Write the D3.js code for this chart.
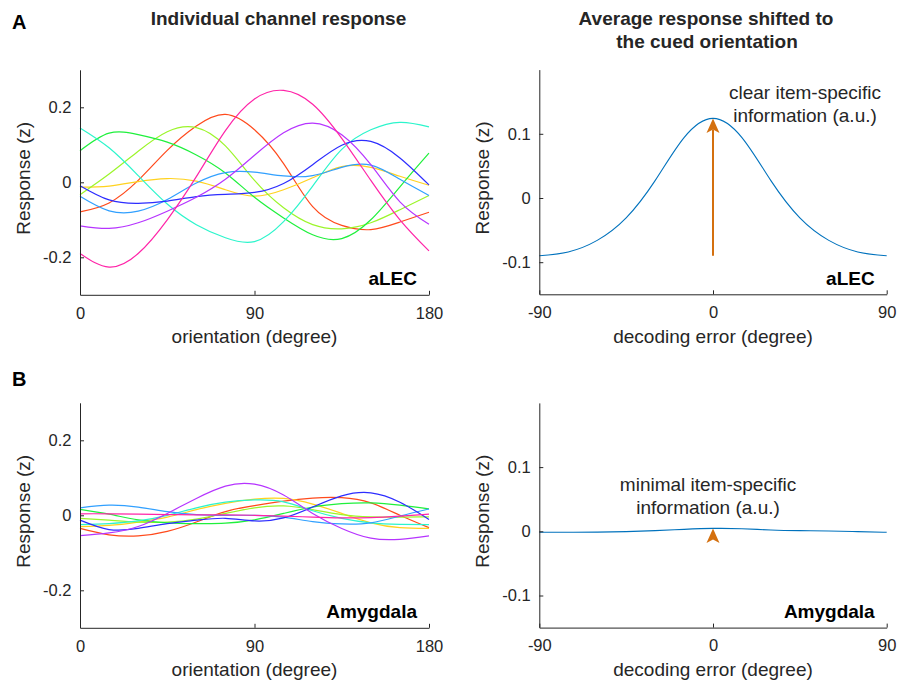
<!DOCTYPE html>
<html>
<head>
<meta charset="utf-8">
<script src="https://cdn.jsdelivr.net/npm/d3@7"></script>
<style>
  body { margin: 0; background: #fff; }
  svg { display: block; font-family: "Liberation Sans", Arial, Helvetica, sans-serif; }
</style>
</head>
<body>
<svg id="fig" width="898" height="683"></svg>
<script>
// orientation samples (degree) for the channel panels
const orientation = [0, 15, 30, 45, 60, 75, 90, 105, 120, 135, 150, 165, 180];
const channelColors = ["#ff4a1c", "#ffd21f", "#9cf52a", "#1ff03c", "#2cf5cc", "#31a0ff", "#2d2dff", "#b634ff", "#ff24a8"];

// aLEC channel responses (z)
const alecRed     = [-0.079, -0.055, 0.005, 0.085, 0.150, 0.181, 0.140, 0.050, -0.065, -0.115, -0.126, -0.106, -0.080];
const alecYellow  = [-0.013, -0.010, 0.002, 0.010, 0.003, -0.020, -0.037, -0.020, 0.012, 0.042, 0.040, 0.016, -0.008];
const alecLime    = [-0.033, 0.022, 0.083, 0.135, 0.146, 0.097, 0.005, -0.068, -0.113, -0.124, -0.108, -0.073, -0.035];
const alecGreen   = [0.084, 0.131, 0.127, 0.107, 0.073, 0.025, -0.040, -0.095, -0.140, -0.150, -0.100, -0.012, 0.078];
const alecCyan    = [0.145, 0.092, 0.018, -0.058, -0.113, -0.148, -0.158, -0.105, -0.010, 0.088, 0.140, 0.160, 0.148];
const alecAzure   = [-0.037, -0.076, -0.077, -0.046, -0.002, 0.026, 0.027, 0.017, 0.018, 0.040, 0.046, 0.008, -0.035];
const alecBlue    = [-0.009, -0.047, -0.056, -0.050, -0.038, -0.032, -0.027, -0.003, 0.047, 0.099, 0.109, 0.065, -0.007];
const alecPurple  = [-0.116, -0.123, -0.108, -0.077, -0.040, 0.008, 0.072, 0.132, 0.158, 0.127, 0.047, -0.052, -0.112];
const alecMagenta = [-0.190, -0.226, -0.190, -0.100, 0.015, 0.138, 0.222, 0.245, 0.208, 0.117, 0.005, -0.100, -0.183];

// Amygdala channel responses (z)
const amyRed     = [-0.035, -0.052, -0.055, -0.043, -0.018, 0.010, 0.026, 0.038, 0.046, 0.047, 0.033, 0.000, -0.033];
const amyYellow  = [-0.030, -0.027, -0.018, -0.005, 0.015, 0.032, 0.043, 0.045, 0.030, 0.005, -0.020, -0.033, -0.035];
const amyLime    = [-0.008, -0.013, -0.018, -0.018, -0.010, 0.005, 0.020, 0.025, 0.015, 0.002, -0.004, -0.005, -0.004];
const amyGreen   = [0.016, 0.003, -0.012, -0.020, -0.022, -0.021, -0.012, 0.005, 0.022, 0.031, 0.033, 0.027, 0.017];
const amyCyan    = [-0.025, -0.022, -0.015, 0.000, 0.020, 0.035, 0.041, 0.036, 0.012, -0.008, -0.020, -0.024, -0.025];
const amyAzure   = [0.020, 0.027, 0.022, 0.010, 0.002, 0.000, 0.000, -0.005, -0.017, -0.023, -0.020, -0.002, 0.017];
const amyBlue    = [-0.013, -0.038, -0.035, -0.022, -0.013, -0.008, -0.015, -0.007, 0.022, 0.052, 0.060, 0.035, -0.011];
const amyPurple  = [-0.054, -0.047, -0.030, 0.005, 0.045, 0.078, 0.083, 0.054, 0.005, -0.035, -0.061, -0.064, -0.055];
const amyMagenta = [0.004, 0.004, 0.003, 0.002, 0.001, 0.001, 0.000, -0.002, -0.005, -0.007, -0.006, -0.002, 0.003];

// average response shifted to cued orientation
const shift  = [-90, -75, -60, -45, -30, -15, 0, 15, 30, 45, 60, 75, 90];
const alecAvg = [-0.090, -0.084, -0.066, -0.031, 0.027, 0.094, 0.124, 0.094, 0.027, -0.031, -0.066, -0.084, -0.090];
const amyAvg  = [-0.0015, -0.0015, -0.0013, -0.0005, 0.001, 0.003, 0.0045, 0.004, 0.002, 0.001, 0.0005, -0.0005, -0.0015];
const alecArrow = [-0.090, 0.124];
const amyArrow  = [-0.0015, 0.0045];

const chanTicksX = [0, 90, 180];
const chanTicksY = [-0.2, 0, 0.2];
const avgTicksX = [-90, 0, 90];
const avgTicksY = [-0.1, 0, 0.1];

const alecSeries = [alecRed, alecYellow, alecLime, alecGreen, alecCyan, alecAzure, alecBlue, alecPurple, alecMagenta];
const amySeries = [amyRed, amyYellow, amyLime, amyGreen, amyCyan, amyAzure, amyBlue, amyPurple, amyMagenta];

const axisColor = "#262626";
const arrowColor = "#d4700f";
const avgColor = "#0072bd";

let svg = d3.select("#fig");

function drawAxes(g, x, y, ticksX, ticksY, xLabel) {
    let ax = g.append("g")
        .attr("transform", `translate(0,${y.range()[0]})`)
        .call(d3.axisBottom(x).tickValues(ticksX).tickSizeInner(-4).tickSizeOuter(0)
            .tickPadding(12).tickFormat(d => String(d)));
    let ay = g.append("g")
        .attr("transform", `translate(${x.range()[0]},0)`)
        .call(d3.axisLeft(y).tickValues(ticksY).tickSizeInner(-4).tickSizeOuter(0)
            .tickPadding(8.5).tickFormat(d => String(d)));
    [ax, ay].forEach(a => {
        a.select(".domain").attr("stroke", axisColor).attr("stroke-width", 1);
        a.selectAll(".tick line").attr("stroke", axisColor);
        a.selectAll("text").attr("fill", axisColor).style("font-size", "16.5px")
            .style("font-family", '"Liberation Sans", Arial, sans-serif');
    });
    let midX = (x.range()[0] + x.range()[1]) / 2;
    g.append("text")
        .attr("x", midX).attr("y", y.range()[0] + 48.5)
        .attr("text-anchor", "middle").attr("fill", axisColor)
        .style("font-size", "19px").text(xLabel);
    let midY = (y.range()[0] + y.range()[1]) / 2 - 4;
    g.append("text")
        .attr("transform", `translate(${x.range()[0] - 50.5},${midY}) rotate(-90)`)
        .attr("text-anchor", "middle").attr("fill", axisColor)
        .style("font-size", "19px").text("Response (z)");
}

function regionLabel(g, x, y, name) {
    g.append("text")
        .attr("x", x.range()[1] - 12).attr("y", y.range()[0] - 9.5)
        .attr("text-anchor", "end").attr("fill", "#000")
        .style("font-size", "19px").style("font-weight", "bold").text(name);
}

function channelPanel(top, bottom, series, name) {
    let x = d3.scaleLinear().domain([0, 180]).range([80, 429]);
    let y = d3.scaleLinear().domain([-0.3, 0.3]).range([bottom, top]);
    let g = svg.append("g");
    let line = d3.line()
        .x((d, i) => x(orientation[i]))
        .y(d => y(d))
        .curve(d3.curveNatural);
    series.forEach((s, i) => {
        g.append("path").datum(s)
            .attr("fill", "none")
            .attr("stroke", channelColors[i])
            .attr("stroke-width", 1.2)
            .attr("d", line);
    });
    drawAxes(g, x, y, chanTicksX, chanTicksY, "orientation (degree)");
    regionLabel(g, x, y, name);
}

function averagePanel(top, bottom, values, arrow, note, noteX, noteY, name) {
    let x = d3.scaleLinear().domain([-90, 90]).range([539.3, 886.7]);
    let y = d3.scaleLinear().domain([-0.15, 0.2]).range([bottom, top]);
    let g = svg.append("g");
    let line = d3.line()
        .x((d, i) => x(shift[i]))
        .y(d => y(d))
        .curve(d3.curveNatural);
    g.append("path").datum(values)
        .attr("fill", "none").attr("stroke", avgColor).attr("stroke-width", 1.1)
        .attr("d", line);

    // arrow from curve minimum to its peak at zero shift
    let ax = x(0), y0 = y(arrow[0]), y1 = y(arrow[1]);
    let headLen = 14.5, headW = 6.5, notch = 11;
    if (y0 - y1 > headLen) {
        g.append("line")
            .attr("x1", ax).attr("x2", ax)
            .attr("y1", y0).attr("y2", y1 + notch)
            .attr("stroke", arrowColor).attr("stroke-width", 2);
    }
    g.append("path")
        .attr("d", `M${ax},${y1} L${ax + headW},${y1 + headLen} L${ax},${y1 + notch} L${ax - headW},${y1 + headLen} Z`)
        .attr("fill", arrowColor);

    note.forEach((t, i) => {
        g.append("text")
            .attr("x", noteX).attr("y", noteY + i * 23)
            .attr("text-anchor", "middle").attr("fill", axisColor)
            .style("font-size", "19px").text(t);
    });

    drawAxes(g, x, y, avgTicksX, avgTicksY, "decoding error (degree)");
    regionLabel(g, x, y, name);
}

channelPanel(69.8, 294.8, alecSeries, "aLEC");
channelPanel(402.8, 627.8, amySeries, "Amygdala");
averagePanel(69.6, 294.3, alecAvg, alecArrow, ["clear item-specific", "information (a.u.)"], 805, 98.5, "aLEC");
averagePanel(402.9, 627.6, amyAvg, amyArrow, ["minimal item-specific", "information (a.u.)"], 708, 491, "Amygdala");

// column titles and panel letters
svg.append("text").attr("x", 278.5).attr("y", 25).attr("text-anchor", "middle")
    .attr("fill", axisColor).style("font-size", "19px").style("font-weight", "bold")
    .text("Individual channel response");
svg.append("text").attr("x", 706).attr("y", 25).attr("text-anchor", "middle")
    .attr("fill", axisColor).style("font-size", "19px").style("font-weight", "bold")
    .text("Average response shifted to");
svg.append("text").attr("x", 707).attr("y", 48).attr("text-anchor", "middle")
    .attr("fill", axisColor).style("font-size", "19px").style("font-weight", "bold")
    .text("the cued orientation");
svg.append("text").attr("x", 12).attr("y", 29).attr("fill", "#000")
    .style("font-size", "20px").style("font-weight", "bold").text("A");
svg.append("text").attr("x", 12).attr("y", 386).attr("fill", "#000")
    .style("font-size", "20px").style("font-weight", "bold").text("B");
</script>
</body>
</html>
